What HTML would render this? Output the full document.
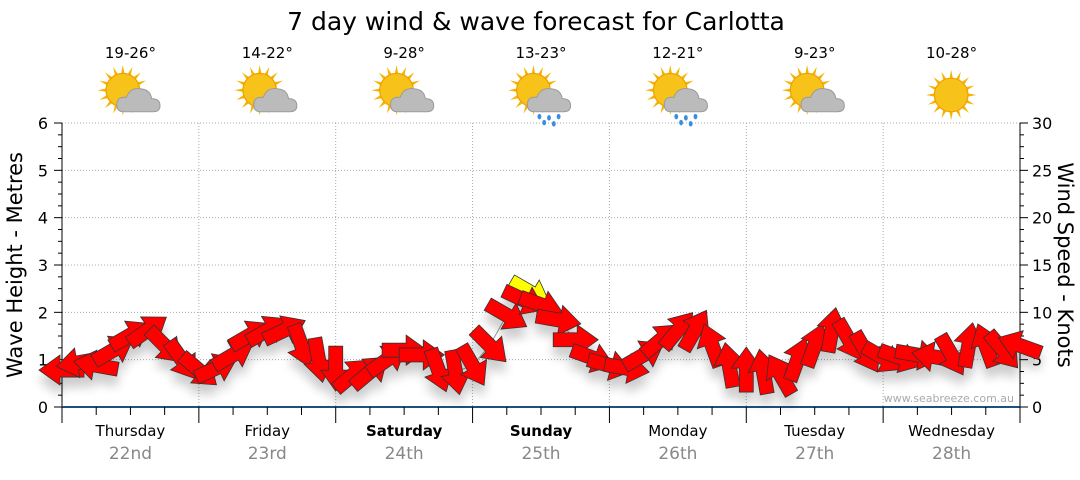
<!DOCTYPE html>
<html><head><meta charset="utf-8"><style>
html,body{margin:0;padding:0;background:#fff;}
body{width:1080px;height:475px;overflow:hidden;font-family:"Liberation Sans","DejaVu Sans",sans-serif;}
svg text{font-family:"DejaVu Sans","Liberation Sans",sans-serif;}
</style></head><body>
<svg id="chart" width="1080" height="475" xmlns="http://www.w3.org/2000/svg">
<defs>
<filter id="sh" x="-50%" y="-50%" width="200%" height="250%"><feGaussianBlur in="SourceAlpha" stdDeviation="5"/><feOffset dx="0" dy="10"/><feComponentTransfer><feFuncA type="linear" slope="0.2"/></feComponentTransfer><feMerge><feMergeNode/><feMergeNode in="SourceGraphic"/></feMerge></filter>
</defs>
<text x="536" y="30" font-size="25" text-anchor="middle" fill="#000">7 day wind &amp; wave forecast for Carlotta</text>
<g id="grid"></g>
<g id="axes"></g>
<g id="icons"></g>
<g id="arrows" filter="url(#sh)"></g>
<text transform="translate(22,265) rotate(-90)" font-size="21" text-anchor="middle">Wave Height - Metres</text>
<text transform="translate(1058,265) rotate(90)" font-size="21" text-anchor="middle">Wind Speed - Knots</text>
<text x="1014" y="402" font-size="11" text-anchor="end" fill="#aaa">www.seabreeze.com.au</text>
</svg>
<script>
const categories=["Thursday","Friday","Saturday","Sunday","Monday","Tuesday","Wednesday"];
const dates=["22nd","23rd","24th","25th","26th","27th","28th"];
const boldDays=[false,false,true,true,false,false,false];
const temps=["19-26°","14-22°","9-28°","13-23°","12-21°","9-23°","10-28°"];
const iconTypes=["cloud","cloud","cloud","rain","rain","cloud","sun"];
const leftTicks=[0,1,2,3,4,5,6];
const rightTicks=[0,5,10,15,20,25,30];
// wind every 3 hours, knots
const windKnots=[3.9,4.7,4.4,6.0,7.6,8.1,6.5,5.0,3.9,4.1,5.5,7.6,8.1,8.1,6.5,5.0,4.1,3.4,3.7,5.0,6.0,5.5,3.9,3.7,4.4,6.5,9.7,11.3,10.8,9.2,7.1,5.2,4.4,4.1,5.5,7.1,8.1,8.1,6.5,4.4,3.9,3.7,3.4,5.0,6.5,8.1,7.1,5.8,5.2,5.2,5.5,5.3,5.5,6.5,6.5,6.0,6.5];
// arrow heading in screen degrees (0 = right, 90 = down)
const windDir=[180,170,190,-30,-30,-35,45,55,40,-25,-30,-30,-30,-25,70,80,90,-40,-40,-35,0,0,70,80,60,45,30,25,20,10,0,20,15,10,-30,-40,-50,-60,-110,-100,-90,-100,-120,-70,-70,-80,60,60,30,20,10,-170,60,-80,-110,50,-160];

const X0=62,X1=1020,Y0=407,Y1=123;
const xs=i=>X0+(X1-X0)*i/(windKnots.length-1);
const yL=v=>Y0-(Y0-Y1)*v/6;
const yR=v=>Y0-(Y0-Y1)*v/30;
const NS="http://www.w3.org/2000/svg";
function mk(tag,attrs,parent){const e=document.createElementNS(NS,tag);for(const k in attrs)e.setAttribute(k,attrs[k]);parent.appendChild(e);return e;}
const grid=document.getElementById('grid'),axes=document.getElementById('axes'),icons=document.getElementById('icons'),arrows=document.getElementById('arrows');
const dayW=(X1-X0)/7;
leftTicks.forEach(v=>{if(v>0){const l=mk('line',{x1:X0,x2:X1,y1:yL(v),y2:yL(v),stroke:'#aaa','stroke-dasharray':'1,2'},grid);}});
for(let d=1;d<7;d++){const l=mk('line',{x1:X0+d*dayW,x2:X0+d*dayW,y1:Y1,y2:Y0,stroke:'#aaa','stroke-dasharray':'1,2'},grid);}
mk('line',{x1:X0,x2:X0,y1:Y1,y2:Y0,stroke:'#000'},axes);
mk('line',{x1:X1,x2:X1,y1:Y1,y2:Y0,stroke:'#000'},axes);
mk('line',{x1:X0,x2:X1,y1:Y0,y2:Y0,stroke:'#1f4f7f','stroke-width':2},axes);
for(let v=0;v<=6.001;v+=0.25){const maj=Math.abs(v-Math.round(v))<0.01;mk('line',{x1:X0-(maj?8:4),x2:X0,y1:yL(v),y2:yL(v),stroke:'#000'},axes);}
leftTicks.forEach(v=>{const t=mk('text',{x:X0-14,y:yL(v)+6,'font-size':16,'text-anchor':'end'},axes);t.textContent=v;});
for(let v=0;v<=30;v+=1.25){const maj=Math.abs(v/5-Math.round(v/5))<0.01;mk('line',{x1:X1,x2:X1+(maj?8:4),y1:yR(v),y2:yR(v),stroke:'#000'},axes);}
rightTicks.forEach(v=>{const t=mk('text',{x:X1+12,y:yR(v)+6,'font-size':16,'text-anchor':'start'},axes);t.textContent=v;});
for(let i=0;i<=28;i++){const x=X0+i*dayW/4;mk('line',{x1:x,x2:x,y1:Y0,y2:Y0+(i%4==0?16:8),stroke:'#000'},axes);}
categories.forEach((c,i)=>{const cx=X0+dayW*(i+0.5);
 const t=mk('text',{x:cx,y:436,'font-size':15,'text-anchor':'middle','font-weight':boldDays[i]?'bold':'normal'},axes);t.textContent=c;
 const d=mk('text',{x:cx,y:459,'font-size':17,'text-anchor':'middle',fill:'#888'},axes);d.textContent=dates[i];
 const tp=mk('text',{x:cx,y:58,'font-size':15,'text-anchor':'middle'},icons);tp.textContent=temps[i];
 const g=mk('g',{transform:`translate(${cx-4},95) scale(1.2)`},icons);
 const sx=iconTypes[i]=='sun'?3:-3,sy=iconTypes[i]=='sun'?0:-4;
 for(let a=0;a<16;a++){const an=a*Math.PI/8;mk('polygon',{points:`${sx+Math.cos(an-0.15)*12},${sy+Math.sin(an-0.15)*12} ${sx+Math.cos(an)*21},${sy+Math.sin(an)*21} ${sx+Math.cos(an+0.15)*12},${sy+Math.sin(an+0.15)*12}`,fill:'#f4b400'},g);}
 mk('circle',{cx:sx,cy:sy,r:14,fill:'#f7c21a',stroke:'#f0a000','stroke-width':1},g);
 if(iconTypes[i]!='sun'){
  mk('path',{d:'M-2,14 Q-8,14 -8,8 Q-8,1 0,2 Q3,-7 13,-5 Q20,-4 21,3 Q28,3 28,9 Q28,14 22,14 Z',fill:'#bbb',stroke:'#999','stroke-width':0.8},g);
  if(iconTypes[i]=='rain'){[[2,18],[10,19],[18,18],[6,23],[14,24]].forEach(p=>mk('ellipse',{cx:p[0],cy:p[1],rx:1.6,ry:2.3,fill:'#3a8ee0'},g));}
 }
});
let pts=windKnots.map((v,i)=>`${xs(i)},${yR(v)}`).join(' ');
mk('polyline',{points:pts,fill:'none',stroke:'#999','stroke-width':1},grid);
function arrow(cx,cy,deg,fill){const g=mk('g',{transform:`translate(${cx},${cy}) rotate(${deg})`},arrows);
 mk('polygon',{points:'-22,-7 2,-7 2,-15 23,0 2,15 2,7 -22,7',fill:fill,stroke:'#333','stroke-width':0.8},g);return g;}
const ya=arrow(530,292,30,'#ffff00');
windKnots.forEach((v,i)=>{const a=arrow(xs(i),yR(v),windDir[i],'#ff0000');
 
 });
</script>
</body></html>
